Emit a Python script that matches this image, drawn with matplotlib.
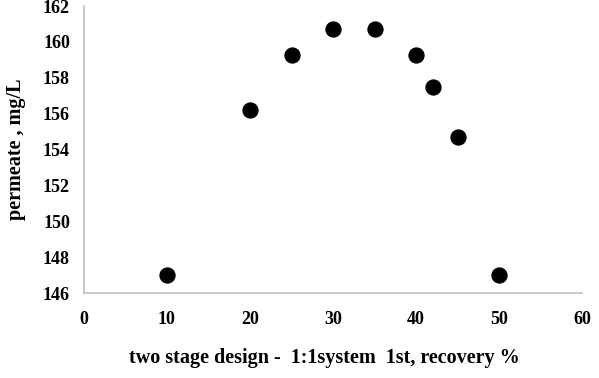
import matplotlib
matplotlib.use("Agg")
import matplotlib.pyplot as plt

# recovery % vs permeate concentration
recovery = [10, 20, 25, 30, 35, 40, 42, 45, 50]
permeate = [147.0, 156.2, 159.3, 160.7, 160.7, 159.3, 157.5, 154.7, 147.0]

x_ticks = [0, 10, 20, 30, 40, 50, 60]
y_ticks = [146, 148, 150, 152, 154, 156, 158, 160, 162]

plt.rcParams['font.family'] = ['Liberation Serif', 'DejaVu Serif']
plt.rcParams['font.weight'] = 'bold'

fig = plt.figure(figsize=(5.99, 3.78), dpi=100)
ax = fig.add_axes([0.140, 0.224, 0.832, 0.760])

ax.scatter(recovery, permeate, s=115, color='black', zorder=3)

ax.set_xlim(0, 60)
ax.set_ylim(146, 162)
ax.set_xticks(x_ticks)
ax.set_yticks(y_ticks)
ax.tick_params(length=0, labelsize=13)
ax.tick_params(axis='x', pad=13)
ax.tick_params(axis='y', pad=10)
for lbl in ax.get_xticklabels() + ax.get_yticklabels():
    lbl.set_fontweight('bold')

for side in ['top', 'right']:
    ax.spines[side].set_visible(False)
for side in ['left', 'bottom']:
    ax.spines[side].set_color('#bfbfbf')
    ax.spines[side].set_linewidth(1.2)

ax.set_xlabel('two stage design -  1:1system  1st, recovery %', fontsize=14.5,
              fontweight='bold')
ax.xaxis.set_label_coords(0.482, -0.19)
ax.set_ylabel('permeate , mg/L', fontsize=14.5, fontweight='bold', labelpad=12)

fig.savefig('out.png', dpi=100)
